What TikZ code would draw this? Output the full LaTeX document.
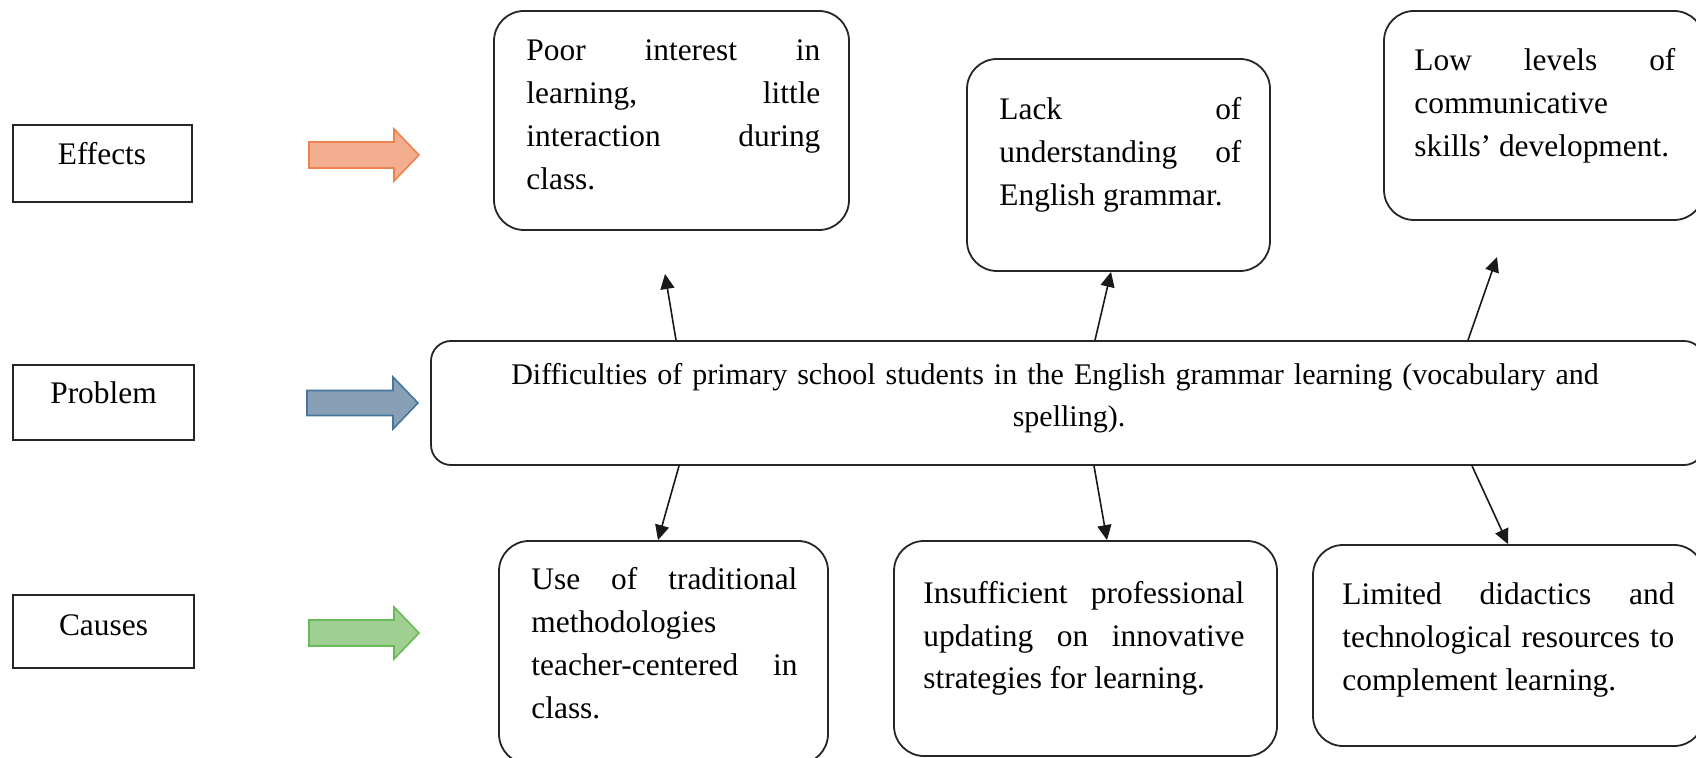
\documentclass[tikz,border=0pt]{standalone}
\usepackage{fontspec}
\setmainfont{Liberation Serif}
\usetikzlibrary{arrows.meta,fit}

\definecolor{effectfill}{RGB}{243,174,143}
\definecolor{effectline}{RGB}{236,130,80}
\definecolor{problemfill}{RGB}{136,160,182}
\definecolor{problemline}{RGB}{70,118,156}
\definecolor{causefill}{RGB}{160,208,145}
\definecolor{causeline}{RGB}{104,186,86}

\begin{document}
\begin{tikzpicture}[x=0.5pt,y=-0.5pt,
  frame/.style={draw=black!85, line width=1pt, inner sep=0pt},
  card/.style={draw=black!85, line width=0.9pt, rounded corners=15pt, inner sep=0pt},
  widecard/.style={card, rounded corners=10pt},
  txt/.style={font=\fontsize{15.7}{21.5}\selectfont, inner sep=0pt, align=flush left, anchor=base west},
  tag/.style={font=\fontsize{15.7}{21}\selectfont, inner sep=0pt, anchor=base},
  conn/.style={line width=0.8pt, draw=black!90, -{Triangle[length=7.5pt,width=7pt]}},
  blockarrow/.style={line width=0.8pt, line join=miter}
]
\useasboundingbox (0,0) rectangle (1696,758);
\clip (0,0) rectangle (1696,758);

% row labels
\node[frame, fit={(13,125) (192,202)}] (effects) {};
\node[tag] (effectsText) at (102,165) {Effects};
\node[frame, fit={(13,365) (194,440)}] (problem) {};
\node[tag] (problemText) at (103.5,404) {Problem};
\node[frame, fit={(13,595) (194,668)}] (causes) {};
\node[tag] (causesText) at (103.5,635) {Causes};

% block arrows pointing to each row
\filldraw[blockarrow, fill=effectfill, draw=effectline]
  (309,142) -- (394,142) -- (394,129) -- (419,155) -- (394,181) -- (394,168) -- (309,168) -- cycle;
\filldraw[blockarrow, fill=problemfill, draw=problemline]
  (307,390.5) -- (393,390.5) -- (393,377) -- (418,403) -- (393,429) -- (393,415.5) -- (307,415.5) -- cycle;
\filldraw[blockarrow, fill=causefill, draw=causeline]
  (309,620) -- (394,620) -- (394,607) -- (419,633) -- (394,659) -- (394,646) -- (309,646) -- cycle;

% effects
\node[card, fit={(494,11) (849,230)}] (e1) {};
\node[txt, text width=147pt] (e1t) at (526,61)
  {Poor\hfill interest\hfill in\\ learning,\hfill little\\ interaction\hfill during\\ class.};
\node[card, fit={(967,59) (1270,271)}] (e2) {};
\node[txt, text width=121pt] (e2t) at (999,119.5)
  {Lack\hfill of\\ understanding\hfill of\\ English grammar.};
\node[card, fit={(1384,11) (1704,220)}] (e3) {};
\node[txt, text width=130.5pt] (e3t) at (1414,71)
  {Low\hfill levels\hfill of\\ communicative\\ skills’ development.};

% central problem
\node[widecard, fit={(431,341) (1704,465)}] (core) {};
\node[tag, font=\fontsize{15}{21}\selectfont, text width=575pt, align=center] (coret) at (1055,384.5)
  {Difficulties of primary school students in the English grammar learning (vocabulary and\\ \hspace*{14pt}spelling).};

% causes
\node[card, fit={(499,541) (828,764)}] (c1) {};
\node[txt, text width=133pt] (c1t) at (531,589)
  {Use\hfill of\hfill traditional\\ methodologies\\ teacher-centered\hfill in\\ class.};
\node[card, fit={(894,541) (1277,756)}] (c2) {};
\node[txt, text width=160.5pt] (c2t) at (923,603)
  {Insufficient\hfill professional\\ updating\hfill on\hfill innovative\\ strategies for learning.};
\node[card, fit={(1313,545) (1704,746)}] (c3) {};
\node[txt, text width=166pt] (c3t) at (1342,604)
  {Limited\hfill didactics\hfill and\\ technological\hfill resources\hfill to\\ complement learning.};

% connectors
\coordinate (t1) at (665,274);
\coordinate (t3) at (1497,257);
\draw[conn] (core.north -| 676,0) -- (t1);
\draw[conn] (core.north -| 1095,0) -- (e2.south -| 1111,0);
\draw[conn] (core.north -| 1468,0) -- (t3);
\draw[conn] (core.south -| 679,0) -- (c1.north -| 658,0);
\draw[conn] (core.south -| 1094,0) -- (c2.north -| 1107,0);
\draw[conn] (core.south -| 1472,0) -- (c3.north -| 1508,0);
\end{tikzpicture}
\end{document}
